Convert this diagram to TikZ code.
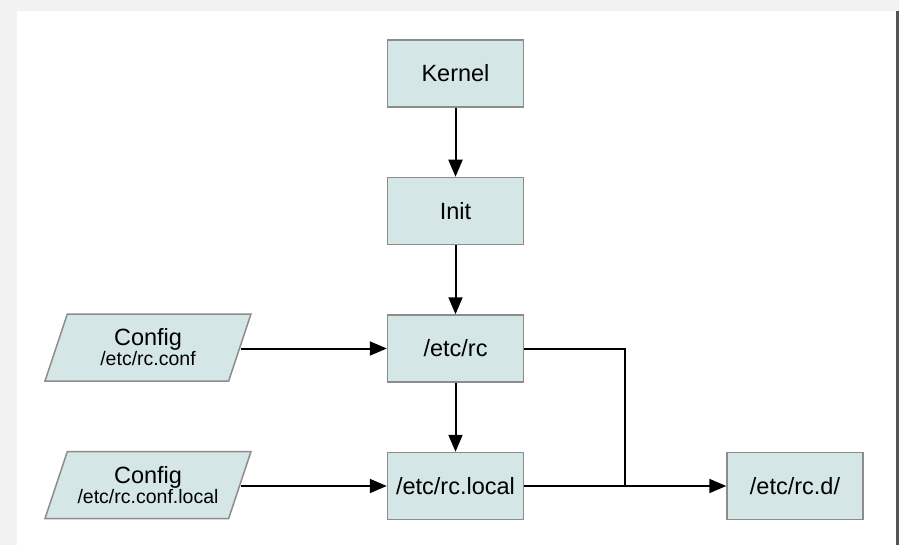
\documentclass[tikz,border=0pt]{standalone}
\usepackage{fontspec}
\setmainfont{Liberation Sans}
\usepackage{tikz}
\usetikzlibrary{arrows.meta,positioning,calc,shapes.geometric}
\definecolor{boxfill}{RGB}{212,230,230}
\definecolor{boxline}{RGB}{140,140,140}
\definecolor{pagebg}{RGB}{241,242,241}
\definecolor{edgec}{RGB}{85,85,85}

\begin{document}
\begin{tikzpicture}[x=1pt, y=-1pt,
  node distance=69pt,
  blk/.style={draw=boxline, line width=1.5pt, fill=boxfill, font=\fontsize{23.5}{28}\selectfont,
    minimum width=136pt, minimum height=67pt, inner sep=0pt},
  cfg/.style={draw=boxline, line width=1.5pt, fill=boxfill, trapezium, trapezium left angle=59,
    trapezium right angle=121, trapezium stretches body, minimum width=206pt, minimum height=67pt,
    inner sep=0pt, align=center},
  arr/.style={-{Triangle[length=17pt, width=14pt]}, line width=2pt},
  ln/.style={line width=2pt}]
  % page and panel
  \fill[pagebg] (0,0) rectangle (899,545);
  \fill[white] (17,11) rectangle (896,545);
  \fill[edgec] (896,11) rectangle (899,545);
  \useasboundingbox (0,0) rectangle (899,545);

  \node[blk] (kernel) at (455.5,73.5) {Kernel};
  \node[blk, below=of kernel] (init) {Init};
  \node[blk, below=of init] (rc) {/etc/rc};
  \node[blk, below=of rc] (rclocal) {/etc/rc.local};
  \node[blk, right=202pt of rclocal] (rcd) {/etc/rc.d/};
  \node[cfg] (conf) at (148,347.5) {\fontsize{23.5}{25}\selectfont Config\\\fontsize{19.5}{25}\selectfont /etc/rc.conf};
  \node[cfg] (conflocal) at (148,485) {\fontsize{23.5}{25}\selectfont Config\\\fontsize{19.5}{25}\selectfont /etc/rc.conf.local};
  \coordinate (jn) at ($(rclocal.east)!0.5!(rcd.west)$);

  \draw[arr] (kernel) -- (init);
  \draw[arr] (init) -- (rc);
  \draw[arr] (rc) -- (rclocal);
  \draw[arr] (conf.east |- rc.west) -- (rc.west);
  \draw[arr] (conflocal.east |- rclocal.west) -- (rclocal.west);
  \draw[arr] (rclocal) -- (rcd);
  \draw[ln] (rc.east) -| (jn);
\end{tikzpicture}
\end{document}
